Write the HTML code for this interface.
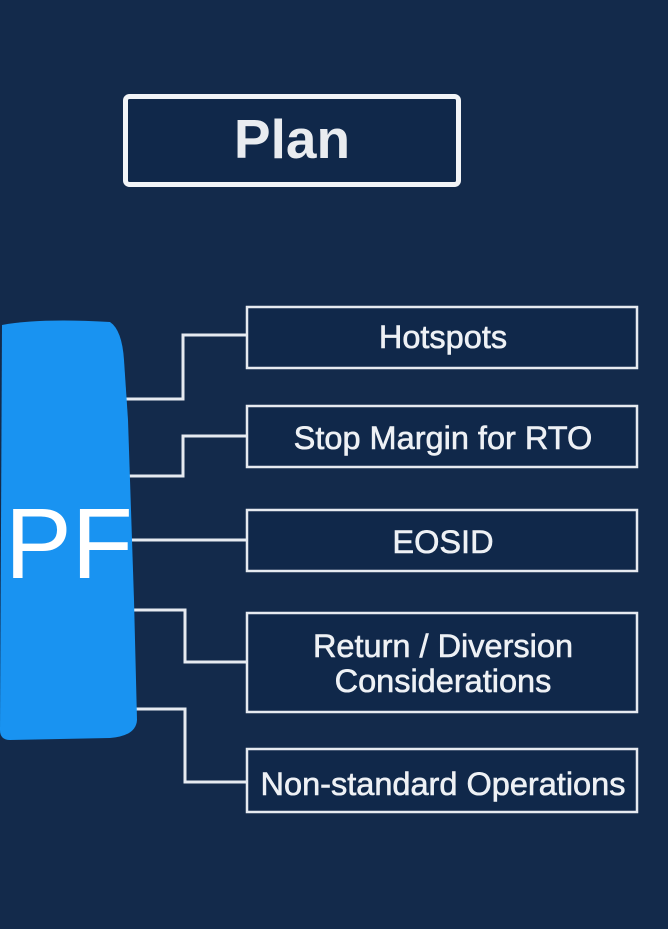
<!DOCTYPE html>
<html><head><meta charset="utf-8"><style>
html,body{margin:0;padding:0;background:#132a4b;}
body{width:668px;height:929px;position:relative;overflow:hidden;font-family:"Liberation Sans",Arial,sans-serif;}
svg{position:absolute;left:0;top:0;}
</style></head><body>
<svg width="668" height="929" viewBox="0 0 668 929">
<rect width="668" height="929" fill="#132a4b"/>
<rect x="125.5" y="96.5" width="333" height="88" rx="4" fill="#10284a" stroke="#f2f4f7" stroke-width="5"/>
<text x="292" y="158" text-anchor="middle" font-size="55" font-weight="bold" fill="#e9ecf0" font-family="Liberation Sans, sans-serif">Plan</text>
<g fill="none" stroke="#e6eaf0" stroke-width="3">
<polyline points="120,399 183,399 183,335 247,335"/>
<polyline points="120,476 183,476 183,436 247,436"/>
<polyline points="120,540 247,540"/>
<polyline points="120,610 185,610 185,662 247,662"/>
<polyline points="120,709 185,709 185,782 247,782"/>
</g>
<g fill="#10284a" stroke="#e6eaf0" stroke-width="2.5">
<rect x="247" y="307" width="390" height="61"/>
<rect x="247" y="406" width="390" height="61"/>
<rect x="247" y="510" width="390" height="61"/>
<rect x="247" y="613" width="390" height="99"/>
<rect x="247" y="749" width="390" height="63"/>
</g>
<g fill="#eef1f5" stroke="#eef1f5" stroke-width="0.6" font-size="32.5" text-anchor="middle" font-family="Liberation Sans, sans-serif">
<text x="443" y="348">Hotspots</text>
<text x="443" y="449">Stop Margin for RTO</text>
<text x="443" y="553">EOSID</text>
<text x="443" y="657">Return / Diversion</text>
<text x="443" y="692">Considerations</text>
<text x="443" y="795">Non-standard Operations</text>
</g>
<path d="M2,325 Q40,318 110,322 Q122,330 124,360 L128,420 L134,600 L137,720 Q136,736 110,738 L10,740 Q0,740 0,730 Z" fill="#1993f1"/>
<text x="5" y="578" font-size="100" fill="#ffffff" font-family="Liberation Sans, sans-serif">PF</text>
</svg>
</body></html>
